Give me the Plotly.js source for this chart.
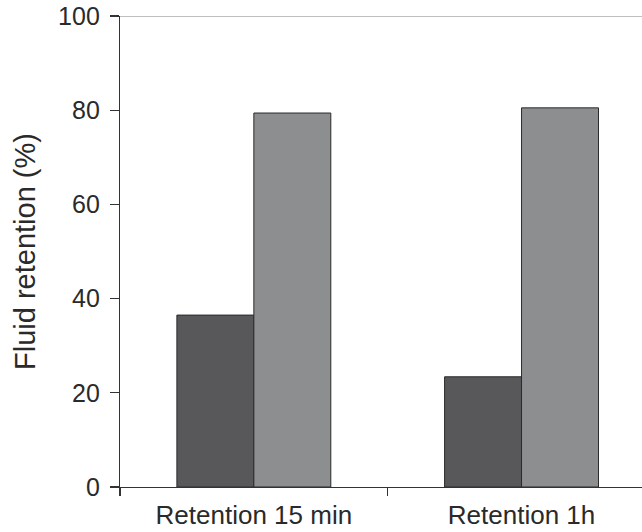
<!DOCTYPE html>
<html><head><meta charset="utf-8">
<script src="https://cdn.plot.ly/plotly-3.0.1.min.js"></script>
<style>body{margin:0;background:#fff}#c{width:642px;height:532px}</style>
</head><body><div id="c"></div>
<script>
const categories = ["Retention 15 min", "Retention 1h"];
const seriesA = [36.5, 23.4];
const seriesB = [79.4, 80.5];
const yTicks = [0, 20, 40, 60, 80, 100];

const font = {family: "Liberation Sans, Arial, sans-serif", color: "#2a2a2a", size: 23};
const traces = [
  {type: "bar", x: categories, y: seriesA, marker: {color: "#58585b", line: {color: "#2a2a2a", width: 1}}, hoverinfo: "none"},
  {type: "bar", x: categories, y: seriesB, marker: {color: "#8c8e90", line: {color: "#2a2a2a", width: 1}}, hoverinfo: "none"},
  {type: "scatter", x: [-0.5, 0.5], y: [0, 0], xaxis: "x2", mode: "none", hoverinfo: "none", showlegend: false}
];
const layout = {
  width: 642, height: 532,
  margin: {l: 120, r: 0, t: 16, b: 45},
  paper_bgcolor: "#fff", plot_bgcolor: "#fff",
  showlegend: false,
  barmode: "group", bargap: 0.425, bargroupgap: 0,
  font: font,
  xaxis: {type: "category", range: [-0.5, 1.45], showline: true, linecolor: "#333", linewidth: 1.2,
          ticks: "", showgrid: false, zeroline: false, tickfont: {size: 26, color: "#2a2a2a"}, ticklabelstandoff: 5},
  xaxis2: {overlaying: "x", range: [-0.5, 1.45], tickvals: [-0.5, 0.5], ticks: "outside", ticklen: 8,
           tickcolor: "#333", tickwidth: 1.2, showticklabels: false, showgrid: false, zeroline: false, showline: false},
  yaxis: {range: [0, 100], tickvals: yTicks, ticks: "outside", ticklen: 9, tickcolor: "#333", tickwidth: 1.2,
          showline: true, linecolor: "#333", linewidth: 1.2, showgrid: false, zeroline: false,
          tickfont: {size: 25, color: "#2a2a2a"}, ticklabelstandoff: 5,
          title: {text: "Fluid retention (%)", font: {size: 29, color: "#2a2a2a"}, standoff: 14}},
  shapes: [{type: "line", xref: "paper", yref: "y", x0: 0, x1: 1, y0: 100, y1: 100, line: {color: "#aaa", width: 1.5}}]
};
Plotly.newPlot("c", traces, layout, {displayModeBar: false, staticPlot: true});
</script></body></html>
